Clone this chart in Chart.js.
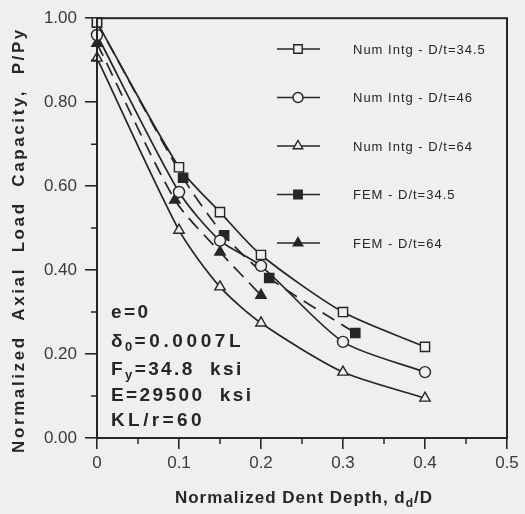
<!DOCTYPE html>
<html>
<head>
<meta charset="utf-8">
<script src="https://cdn.jsdelivr.net/npm/chart.js@4.4.1/dist/chart.umd.min.js"></script>
<style>
  html, body { margin: 0; padding: 0; background: #efefed; }
  #wrap { width: 525px; height: 514px; }
</style>
</head>
<body>
<div id="wrap"><canvas id="dentChart" width="525" height="514"></canvas></div>
<script>
// dent depth values (x) and P/Py values (y)
const numDepth = [0, 0.1, 0.15, 0.2, 0.3, 0.4];
const num345 = [0.99, 0.645, 0.538, 0.436, 0.30, 0.217];
const num46 = [0.96, 0.586, 0.47, 0.41, 0.229, 0.157];
const num64 = [0.905, 0.495, 0.36, 0.274, 0.157, 0.095];

const fem345Depth = [0, 0.105, 0.155, 0.21, 0.315];
const fem345 = [0.99, 0.62, 0.483, 0.381, 0.25];
const fem64Depth = [0, 0.095, 0.15, 0.2];
const fem64 = [0.94, 0.567, 0.443, 0.34];

const seriesNames = ["Num Intg - D/t=34.5", "Num Intg - D/t=46", "Num Intg - D/t=64", "FEM - D/t=34.5", "FEM - D/t=64"];
const xTicks = [0, 0.1, 0.2, 0.3, 0.4, 0.5];
const yTicks = [0, 0.2, 0.4, 0.6, 0.8, 1.0];
const notes = ["e=0", "δ0=0.0007L", "Fy=34.8  ksi", "E=29500  ksi", "KL/r=60"];

const ink = "#262626";
const bg = "#efefed";
const fam = "'Liberation Sans', Arial, sans-serif";

function pts(xs, ys) {
    return xs.map((x, i) => ({ x: x, y: ys[i] }));
}

function line(label, data, shape, filled, dashed) {
    return {
        label: label,
        data: data,
        showLine: true,
        clip: false,
        tension: 0.25,
        borderColor: ink,
        borderWidth: 1.7,
        borderDash: dashed ? [14, 8] : [],
        pointStyle: shape,
        pointRadius: shape === "circle" ? 5.5 : (shape === "triangle" ? 6 : 6.5),
        pointBorderWidth: 1.4,
        pointBorderColor: ink,
        pointBackgroundColor: filled ? ink : bg
    };
}

// frame, minor ticks, legend, notes and axis titles
const extras = {
    id: "extras",
    afterDraw(chart) {
        const ctx = chart.ctx;
        const a = chart.chartArea;
        const xs = chart.scales.x, ys = chart.scales.y;
        ctx.save();
        ctx.strokeStyle = ink;
        ctx.lineWidth = 2;
        ctx.strokeRect(a.left, a.top, a.right - a.left, a.bottom - a.top);

        // minor ticks
        ctx.lineWidth = 1.5;
        ctx.beginPath();
        for (let v = 0.05; v < 0.5; v += 0.1) {
            const px = xs.getPixelForValue(v);
            ctx.moveTo(px, a.bottom);
            ctx.lineTo(px, a.bottom + 6);
        }
        for (let v = 0.1; v < 1; v += 0.2) {
            const py = ys.getPixelForValue(v);
            ctx.moveTo(a.left, py);
            ctx.lineTo(a.left - 6, py);
        }
        ctx.stroke();

        // legend inside the plot
        ctx.font = "13px " + fam;
        ctx.letterSpacing = "1px";
        ctx.textBaseline = "middle";
        ctx.fillStyle = ink;
        chart.data.datasets.forEach((ds, i) => {
            const y = 49 + i * 48.5;
            const x0 = 277, x1 = 320, xm = 298;
            ctx.setLineDash([]);
            ctx.lineWidth = 1.7;
            ctx.strokeStyle = ink;
            ctx.beginPath();
            ctx.moveTo(x0, y);
            ctx.lineTo(x1, y);
            ctx.stroke();
            ctx.lineWidth = ds.pointBorderWidth;
            ctx.fillStyle = ds.pointBackgroundColor;
            Chart.helpers.drawPoint(ctx, {
                pointStyle: ds.pointStyle,
                radius: ds.pointRadius - 0.5,
                rotation: 0,
                borderWidth: ds.pointBorderWidth
            }, xm, y);
            ctx.fillStyle = ink;
            ctx.fillText(ds.label, 353, y + 1);
        });

        // parameter notes
        const big = "bold 19px " + fam, small = "bold 13px " + fam;
        ctx.font = big;
        ctx.letterSpacing = "2.4px";
        ctx.textBaseline = "alphabetic";
        ctx.textAlign = "left";
        const nx = 111;
        const base = [318, 347, 375, 401, 426];
        ctx.fillText(notes[0], nx, base[0]);
        // delta with subscript 0
        let w = ctx.measureText("δ").width;
        ctx.fillText("δ", nx, base[1]);
        ctx.font = small;
        ctx.fillText("0", nx + w, base[1] + 4);
        let w2 = ctx.measureText("0").width;
        ctx.font = big;
        ctx.letterSpacing = "3.6px";
        ctx.fillText("=0.0007L", nx + w + w2, base[1]);
        ctx.letterSpacing = "2.4px";
        // F with subscript y
        w = ctx.measureText("F").width;
        ctx.fillText("F", nx, base[2]);
        ctx.font = small;
        ctx.fillText("y", nx + w, base[2] + 4);
        w2 = ctx.measureText("y").width;
        ctx.font = big;
        ctx.fillText("=34.8  ksi", nx + w + w2, base[2]);
        ctx.fillText(notes[3], nx, base[3]);
        ctx.letterSpacing = "3.4px";
        ctx.fillText(notes[4], nx, base[4]);

        // x axis title with subscript d
        const xt = "bold 17px " + fam, xs2 = "bold 12px " + fam;
        ctx.font = xt;
        ctx.letterSpacing = "1px";
        const t1 = "Normalized Dent Depth, d", t2 = "d", t3 = "/D";
        const w1 = ctx.measureText(t1).width;
        ctx.font = xs2;
        const ws = ctx.measureText(t2).width;
        ctx.font = xt;
        const w3 = ctx.measureText(t3).width;
        let tx = 304 - (w1 + ws + w3) / 2;
        ctx.fillText(t1, tx, 503);
        ctx.font = xs2;
        ctx.fillText(t2, tx + w1, 507);
        ctx.font = xt;
        ctx.fillText(t3, tx + w1 + ws, 503);

        // y axis title
        ctx.translate(24, 240);
        ctx.rotate(-Math.PI / 2);
        ctx.textAlign = "center";
        ctx.font = "bold 17px " + fam;
        ctx.letterSpacing = "2.6px";
        ctx.fillText("Normalized  Axial  Load  Capacity,  P/Py", 0, 0);
        ctx.restore();
    }
};

const bgPlugin = {
    id: "bg",
    beforeDraw(chart) {
        const ctx = chart.ctx;
        ctx.save();
        ctx.fillStyle = bg;
        ctx.fillRect(0, 0, chart.width, chart.height);
        ctx.restore();
    }
};

new Chart(document.getElementById("dentChart").getContext("2d"), {
    type: "scatter",
    data: {
        datasets: [
            line(seriesNames[0], pts(numDepth, num345), "rect", false, false),
            line(seriesNames[1], pts(numDepth, num46), "circle", false, false),
            line(seriesNames[2], pts(numDepth, num64), "triangle", false, false),
            line(seriesNames[3], pts(fem345Depth, fem345), "rect", true, true),
            line(seriesNames[4], pts(fem64Depth, fem64), "triangle", true, true)
        ]
    },
    options: {
        responsive: false,
        animation: false,
        layout: { padding: { top: 18, right: 18, left: 0, bottom: 0 } },
        plugins: {
            legend: { display: false },
            tooltip: { enabled: false }
        },
        scales: {
            x: {
                type: "linear",
                min: 0,
                max: 0.5,
                afterBuildTicks: (s) => { s.ticks = xTicks.map(v => ({ value: v })); },
                afterFit: (s) => { s.height = 76; },
                grid: { drawOnChartArea: false, tickLength: 11, color: ink, lineWidth: 1.6 },
                border: { display: false },
                ticks: {
                    color: "#3a3a3a",
                    font: { family: fam, size: 17 },
                    padding: 4,
                    maxRotation: 0,
                    callback: (v) => v === 0 ? "0" : String(Math.round(v * 10) / 10)
                }
            },
            y: {
                min: 0,
                max: 1,
                afterBuildTicks: (s) => { s.ticks = yTicks.map(v => ({ value: v })); },
                afterFit: (s) => { s.width = 97; },
                grid: { drawOnChartArea: false, tickLength: 12, color: ink, lineWidth: 1.6 },
                border: { display: false },
                ticks: {
                    color: "#3a3a3a",
                    font: { family: fam, size: 17 },
                    padding: 8,
                    callback: (v) => v.toFixed(2)
                }
            }
        }
    },
    plugins: [bgPlugin, extras]
});
</script>
</body>
</html>
